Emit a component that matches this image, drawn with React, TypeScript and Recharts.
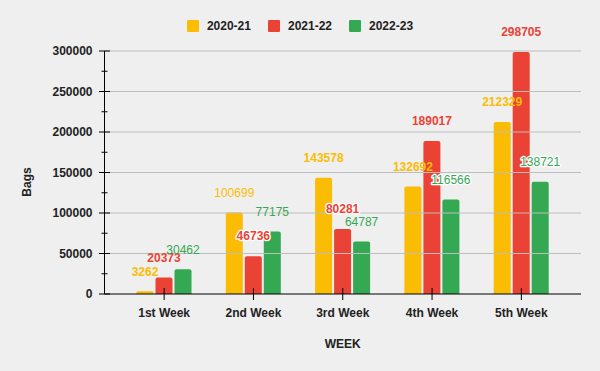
import React from 'react';
import { BarChart, Bar, XAxis, YAxis, ReferenceLine, LabelList, Label } from 'recharts';

const weeks = ['1st Week', '2nd Week', '3rd Week', '4th Week', '5th Week'];
const s2020 = [3262, 100699, 143578, 132692, 212329];
const s2021 = [20373, 46736, 80281, 189017, 298705];
const s2022 = [30462, 77175, 64787, 116566, 138721];
const seriesNames = ['2020-21', '2021-22', '2022-23'];
const yTicks = [0, 25000, 50000, 75000, 100000, 125000, 150000, 175000, 200000, 225000, 250000, 275000, 300000];
const majorTicks = [0, 50000, 100000, 150000, 200000, 250000, 300000];

const COLORS = ['#FBBC04', '#EA4335', '#34A853'];
const FONT = 'Arial, "Liberation Sans", sans-serif';

// label emphasis (presentation only)
const boldLabel = [
  [true, false, true, true, true],
  [true, true, true, true, true],
  [false, false, false, false, false],
];
const haloLabel = [
  [false, false, false, false, false],
  [false, true, true, false, false],
  [false, false, false, true, true],
];

const data = weeks.map((w, i) => ({ week: w, a: s2020[i], b: s2021[i], c: s2022[i] }));

const makeLabel = (si: number) => (props: any) => {
  const { x, y, width, value, index } = props;
  const halo = haloLabel[si][index];
  return (
    <text
      x={Number(x) + Number(width) / 2}
      y={Number(y) - 15.7}
      textAnchor="middle"
      fontFamily={FONT}
      fontSize={12}
      fontWeight={boldLabel[si][index] ? 'bold' : 'normal'}
      fill={COLORS[si]}
      stroke={halo ? '#ffffff' : 'none'}
      strokeWidth={halo ? 2.5 : 0}
      strokeLinejoin="round"
      paintOrder="stroke"
    >
      {value}
    </text>
  );
};

const YTick = (props: any) => {
  const { x, y, payload } = props;
  const major = payload.value % 50000 === 0;
  return (
    <g>
      {major ? (
        <line x1={x - 5.5} x2={x + 5.5} y1={y} y2={y} stroke="#000" strokeWidth={1} />
      ) : (
        <line x1={x - 3} x2={x + 3} y1={y} y2={y} stroke="#000" strokeWidth={1} />
      )}
      {major && (
        <text x={x - 12} y={y + 4.3} textAnchor="end" fontFamily={FONT} fontSize={12} fontWeight="bold" fill="#222">
          {payload.value}
        </text>
      )}
    </g>
  );
};

const XTick = (props: any) => {
  const { x, y, payload } = props;
  return (
    <g>
      <line x1={x} x2={x} y1={y - 6} y2={y + 6} stroke="#000" strokeWidth={1} />
      <text x={x} y={y + 23} textAnchor="middle" fontFamily={FONT} fontSize={12} fontWeight="bold" fill="#222">
        {payload.value}
      </text>
    </g>
  );
};

const YTitle = (props: any) => {
  const vb = props.viewBox || {};
  const cx = 27;
  const cy = vb.y + vb.height / 2 + 9.5;
  return (
    <text
      x={cx}
      y={cy}
      transform={`rotate(-90 ${cx} ${cy})`}
      textAnchor="middle"
      dominantBaseline="central"
      fontFamily={FONT}
      fontSize={12}
      fontWeight="bold"
      fill="#222"
    >
      Bags
    </text>
  );
};

const XTitle = (props: any) => {
  const vb = props.viewBox || {};
  return (
    <text
      x={vb.x + vb.width / 2}
      y={vb.y + 54.3}
      textAnchor="middle"
      fontFamily={FONT}
      fontSize={12}
      fontWeight="bold"
      fill="#222"
    >
      WEEK
    </text>
  );
};

export default function App() {
  return (
    <div style={{ position: 'fixed', left: 0, top: 0, width: 600, height: 371, background: '#efefef' }}>
      <div
        style={{
          position: 'absolute',
          top: 19.5,
          left: 0,
          width: 600,
          height: 12,
          display: 'flex',
          justifyContent: 'center',
          alignItems: 'center',
          fontFamily: FONT,
          fontSize: 12,
          fontWeight: 'bold',
          color: '#222',
        }}
      >
        {seriesNames.map((n, i) => (
          <div key={n} style={{ display: 'flex', alignItems: 'center', marginRight: i < 2 ? 17 : 0 }}>
            <div style={{ width: 12, height: 12, background: COLORS[i], borderRadius: 1, marginRight: 8 }} />
            <span style={{ lineHeight: '12px' }}>{n}</span>
          </div>
        ))}
      </div>
      <BarChart
        width={600}
        height={371}
        data={data}
        margin={{ top: 51, right: 19, bottom: 0, left: 0 }}
        barCategoryGap={17}
        barGap={2}
        style={{ position: 'absolute', left: 0, top: 0 }}
      >
        {majorTicks.slice(1).map((t) => (
          <ReferenceLine key={t} y={t} stroke="#bdbdbd" strokeWidth={1} ifOverflow="extendDomain" />
        ))}
        <XAxis
          dataKey="week"
          height={77}
          padding={{ left: 15, right: 15 }}
          tickSize={0}
          tickMargin={0}
          tick={<XTick />}
          axisLine={{ stroke: '#000', strokeWidth: 1 }}
          tickLine={false}
          interval={0}
        >
          <Label content={<XTitle />} />
        </XAxis>
        <YAxis
          width={104.5}
          domain={[0, 300000]}
          ticks={yTicks}
          interval={0}
          tickSize={0}
          tickMargin={0}
          tick={<YTick />}
          axisLine={{ stroke: '#000', strokeWidth: 1 }}
          tickLine={false}
        >
          <Label content={<YTitle />} />
        </YAxis>
        <Bar dataKey="a" name={seriesNames[0]} fill={COLORS[0]} radius={[2, 2, 0, 0]} isAnimationActive={false}>
          <LabelList dataKey="a" content={makeLabel(0)} />
        </Bar>
        <Bar dataKey="b" name={seriesNames[1]} fill={COLORS[1]} radius={[2, 2, 0, 0]} isAnimationActive={false}>
          <LabelList dataKey="b" content={makeLabel(1)} />
        </Bar>
        <Bar dataKey="c" name={seriesNames[2]} fill={COLORS[2]} radius={[2, 2, 0, 0]} isAnimationActive={false}>
          <LabelList dataKey="c" content={makeLabel(2)} />
        </Bar>
      </BarChart>
    </div>
  );
}
